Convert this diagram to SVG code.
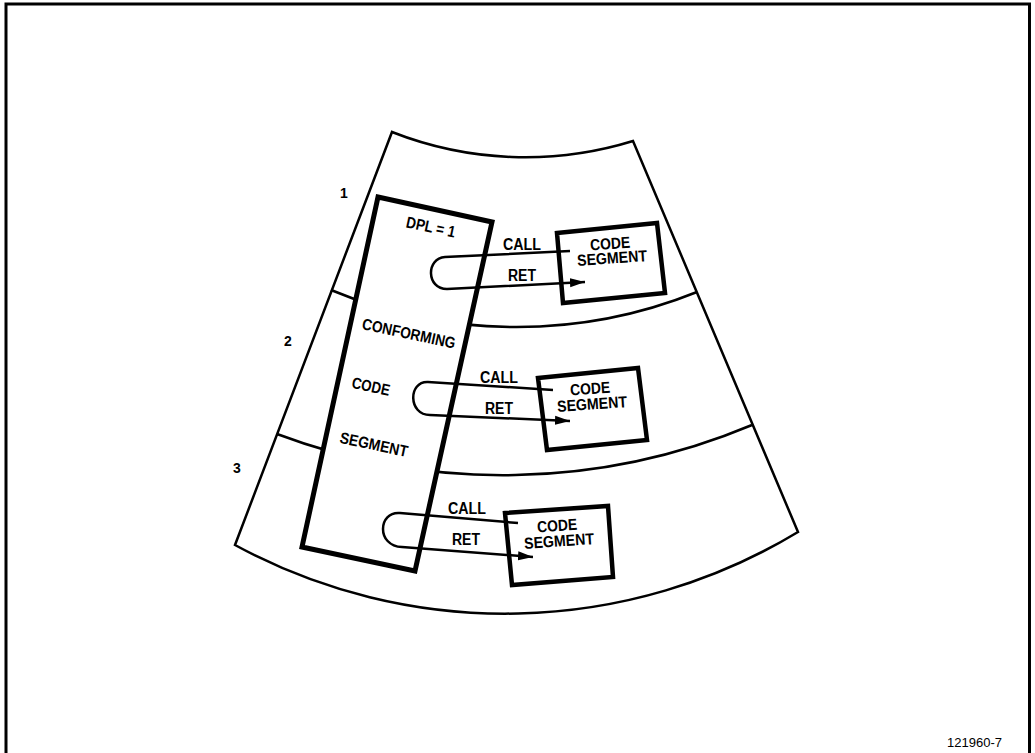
<svg xmlns="http://www.w3.org/2000/svg" width="1035" height="753" viewBox="0 0 1035 753">
<style>
.thin{fill:none;stroke:#000;stroke-width:2.5;stroke-linejoin:miter}
.box{fill:#fff;stroke:#000;stroke-width:4.5;stroke-linejoin:miter}
.tall{fill:#fff;stroke:#000;stroke-width:5;stroke-linejoin:miter}
.conn{fill:none;stroke:#000;stroke-width:2.5}
.t{font-family:"Liberation Sans",Arial,Helvetica,sans-serif;font-weight:bold;font-size:16px;fill:#000;text-anchor:middle}
.n{font-family:"Liberation Sans",Arial,Helvetica,sans-serif;font-weight:bold;font-size:14px;fill:#000;text-anchor:middle}
.id{font-family:"Liberation Sans",Arial,Helvetica,sans-serif;font-size:13.5px;fill:#000;text-anchor:end}
</style>
<defs>
<marker id="ah" markerUnits="userSpaceOnUse" markerWidth="16" markerHeight="11" refX="15" refY="5" orient="auto">
<path d="M0,0.5 L15,5 L0,9.5 Z" fill="#000"/>
</marker>
</defs>
<rect width="1035" height="753" fill="#fff"/>
<g id="frame">
<path d="M6,760 L6,4 L1029.5,4 L1029.5,760" fill="none" stroke="#000" stroke-width="3"/>
<text class="id" x="1002" y="747" textLength="55" lengthAdjust="spacingAndGlyphs">121960-7</text>
</g>
<g id="rings">
<path class="thin" d="M392,132 A365,365 0 0 0 633,141 L798,532 A566,566 0 0 1 235,545 Z"/>
<path class="thin" d="M331,290 A483,483 0 0 0 697,292"/>
<path class="thin" d="M277,434 A642,642 0 0 0 752,425"/>
<text class="n" x="344" y="198">1</text>
<text class="n" x="288" y="346">2</text>
<text class="n" x="237" y="473">3</text>
</g>
<g id="conforming-code-segment">
<polygon class="tall" points="378,197 492,222 415,571 302,547"/>
<text class="t" transform="translate(431,226.5) rotate(12)" y="6" textLength="50" lengthAdjust="spacingAndGlyphs">DPL = 1</text>
<text class="t" transform="translate(409,333) rotate(12)" y="6" textLength="95" lengthAdjust="spacingAndGlyphs">CONFORMING</text>
<text class="t" transform="translate(371,386) rotate(12)" y="6" textLength="38.5" lengthAdjust="spacingAndGlyphs">CODE</text>
<text class="t" transform="translate(374,444) rotate(12)" y="6" textLength="69" lengthAdjust="spacingAndGlyphs">SEGMENT</text>
</g>
<g id="code-segment-1">
<polygon class="box" points="557,233 657,223 665,293 563,303"/>
<text class="t" transform="translate(610,243) rotate(-4)" y="6" textLength="40" lengthAdjust="spacingAndGlyphs">CODE</text>
<text class="t" transform="translate(612,257.5) rotate(-4)" y="6" textLength="70" lengthAdjust="spacingAndGlyphs">SEGMENT</text>
</g>
<g id="code-segment-2">
<polygon class="box" points="538,378 638,368 647,440 547,450"/>
<text class="t" transform="translate(590,388) rotate(-4)" y="6" textLength="40" lengthAdjust="spacingAndGlyphs">CODE</text>
<text class="t" transform="translate(592,403.5) rotate(-4)" y="6" textLength="70" lengthAdjust="spacingAndGlyphs">SEGMENT</text>
</g>
<g id="code-segment-3">
<polygon class="box" points="505,513 608,506 613,577 512,585"/>
<text class="t" transform="translate(557,525) rotate(-4)" y="6" textLength="40" lengthAdjust="spacingAndGlyphs">CODE</text>
<text class="t" transform="translate(559,540.5) rotate(-4)" y="6" textLength="70" lengthAdjust="spacingAndGlyphs">SEGMENT</text>
</g>
<g id="connectors">
<path class="conn" d="M570,251 L445,257 C426,258 426,289 447,289 L585,282" marker-end="url(#ah)"/>
<path class="conn" d="M553,390 L428,382 C408,381 408,415 430,415 L570,421" marker-end="url(#ah)"/>
<path class="conn" d="M518,523 L400,513 C378,511 376,546 402,547 L533,557" marker-end="url(#ah)"/>
<text class="t" x="522" y="250" textLength="38" lengthAdjust="spacingAndGlyphs">CALL</text>
<text class="t" x="522" y="281" textLength="28" lengthAdjust="spacingAndGlyphs">RET</text>
<text class="t" x="499" y="383" textLength="38" lengthAdjust="spacingAndGlyphs">CALL</text>
<text class="t" x="499" y="414" textLength="28" lengthAdjust="spacingAndGlyphs">RET</text>
<text class="t" x="467" y="514" textLength="38" lengthAdjust="spacingAndGlyphs">CALL</text>
<text class="t" x="466" y="545" textLength="28" lengthAdjust="spacingAndGlyphs">RET</text>
</g>
</svg>
